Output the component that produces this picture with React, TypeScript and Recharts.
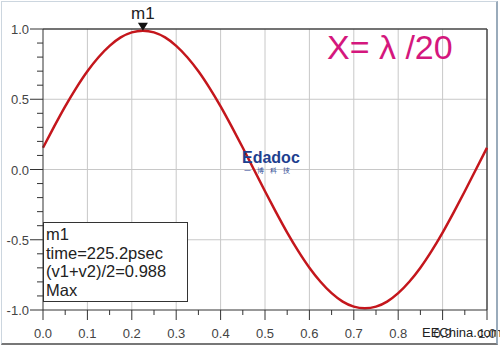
import React from "react";
import {
  LineChart,
  Line,
  XAxis,
  YAxis,
  ReferenceLine,
  ReferenceDot,
} from "recharts";

// time axis (normalised) and the averaged voltage
const timeValues = [
  0, 0.025, 0.05, 0.075, 0.1, 0.125, 0.15, 0.175, 0.2, 0.225, 0.25, 0.275, 0.3,
  0.325, 0.35, 0.375, 0.4, 0.425, 0.45, 0.475, 0.5, 0.525, 0.55, 0.575, 0.6,
  0.625, 0.65, 0.675, 0.7, 0.725, 0.75, 0.775, 0.8, 0.825, 0.85, 0.875, 0.9,
  0.925, 0.95, 0.975, 1.0,
];
const avgVoltage = [
  0.155, 0.305, 0.449, 0.581, 0.699, 0.799, 0.88, 0.94, 0.976, 0.988, 0.976,
  0.94, 0.88, 0.799, 0.699, 0.581, 0.449, 0.305, 0.155, 0.0, -0.155, -0.305,
  -0.449, -0.581, -0.699, -0.799, -0.88, -0.94, -0.976, -0.988, -0.976, -0.94,
  -0.88, -0.799, -0.699, -0.581, -0.449, -0.305, -0.155, 0.0, 0.155,
];

const xTicks = [
  0, 0.05, 0.1, 0.15, 0.2, 0.25, 0.3, 0.35, 0.4, 0.45, 0.5, 0.55, 0.6, 0.65,
  0.7, 0.75, 0.8, 0.85, 0.9, 0.95, 1.0,
];
const yTicks = [
  -1, -0.9, -0.8, -0.7, -0.6, -0.5, -0.4, -0.3, -0.2, -0.1, 0, 0.1, 0.2, 0.3,
  0.4, 0.5, 0.6, 0.7, 0.8, 0.9, 1,
];
const xGrid = [0.1, 0.2, 0.3, 0.4, 0.5, 0.6, 0.7, 0.8, 0.9];
const yGrid = [-0.5, 0, 0.5];

const marker = { name: "m1", x: 0.225, y: 0.988 };
const markerLines = ["m1", "time=225.2psec", "(v1+v2)/2=0.988", "Max"];

const data = timeValues.map((t, i) => ({ t, v: avgVoltage[i] }));

const FONT = "'Liberation Sans', Arial, sans-serif";

const XTick = (props: any) => {
  const { x, y, payload } = props;
  const major = Math.round(payload.value * 100) % 10 === 0;
  return (
    <g>
      <line x1={x} x2={x} y1={y} y2={y + (major ? 10 : 5)} stroke="#333" strokeWidth={1} />
      {major && (
        <text x={x} y={y + 28} textAnchor="middle" fontSize={13} fill="#444" fontFamily={FONT}>
          {payload.value.toFixed(1)}
        </text>
      )}
    </g>
  );
};

const YTick = (props: any) => {
  const { x, y, payload } = props;
  const major = Math.round(payload.value * 10) % 5 === 0;
  return (
    <g>
      <line x1={x} x2={x - (major ? 13 : 6)} y1={y} y2={y} stroke="#333" strokeWidth={1} />
      {major && (
        <text x={x - 14} y={y + 5} textAnchor="end" fontSize={13} fill="#444" fontFamily={FONT}>
          {payload.value.toFixed(1)}
        </text>
      )}
    </g>
  );
};

const MarkerShape = (props: any) => {
  const { cx, cy } = props;
  return (
    <g>
      <polygon points={`${cx - 5},${cy - 8} ${cx + 5},${cy - 8} ${cx},${cy}`} fill="#111" />
      <text x={cx} y={cy - 12} textAnchor="middle" fontSize={17} fill="#222" fontFamily={FONT}>
        {marker.name}
      </text>
    </g>
  );
};

export default function App() {
  return (
    <div
      style={{
        position: "absolute",
        left: 0,
        top: 0,
        width: 500,
        height: 347,
        background: "#fff",
        fontFamily: FONT,
      }}
    >
      <LineChart
        width={500}
        height={347}
        data={data}
        margin={{ top: 29, right: 13, bottom: 0, left: 0 }}
      >
        <XAxis
          type="number"
          dataKey="t"
          domain={[0, 1]}
          ticks={xTicks}
          interval={0}
          height={37}
          tickSize={0}
          tickMargin={0}
          axisLine={{ stroke: "#333" }}
          tick={XTick}
        />
        <YAxis
          type="number"
          domain={[-1, 1]}
          ticks={yTicks}
          interval={0}
          width={43}
          tickSize={0}
          tickMargin={0}
          axisLine={{ stroke: "#333" }}
          tick={YTick}
        />
        {xGrid.map((g) => (
          <ReferenceLine key={"gx" + g} x={g} stroke="#c8c8c8" strokeWidth={1} />
        ))}
        {yGrid.map((g) => (
          <ReferenceLine key={"gy" + g} y={g} stroke="#c8c8c8" strokeWidth={1} />
        ))}
        <ReferenceLine y={1} stroke="#444" strokeWidth={1.5} />
        <ReferenceLine x={1} stroke="#444" strokeWidth={1.5} />
        <Line
          type="monotone"
          dataKey="v"
          stroke="#c4161c"
          strokeWidth={2.5}
          dot={false}
          isAnimationActive={false}
        />
        <ReferenceDot x={marker.x} y={marker.y} r={5} shape={MarkerShape} />
      </LineChart>

      {/* marker readout box */}
      <div
        style={{
          position: "absolute",
          left: 43,
          top: 222,
          width: 145,
          height: 80,
          border: "1px solid #333",
          background: "#fff",
          fontSize: 16.5,
          lineHeight: "18.5px",
          color: "#222",
          paddingLeft: 2,
          paddingTop: 2,
          boxSizing: "border-box",
          whiteSpace: "nowrap",
        }}
      >
        {markerLines.map((l) => (
          <div key={l}>{l}</div>
        ))}
      </div>

      <div
        style={{
          position: "absolute",
          left: 327,
          top: 28,
          fontSize: 34,
          color: "#d4177d",
          whiteSpace: "nowrap",
        }}
      >
        X= λ /20
      </div>

      {/* watermarks */}
      <div style={{ position: "absolute", left: 242, top: 149, color: "#1e3f8f", fontWeight: "bold", fontSize: 16 }}>
        Edadoc
      </div>
      <div style={{ position: "absolute", left: 244, top: 166, color: "#1e3f8f", fontSize: 7, letterSpacing: 6 }}>
        一博科技
      </div>
      <div style={{ position: "absolute", left: 422, top: 325, color: "#222", fontSize: 13 }}>
        EEChina.com
      </div>

      {/* picture frame */}
      <div
        style={{
          position: "absolute",
          left: 1,
          top: 1,
          width: 497,
          height: 344,
          borderLeft: "1px solid #ccd6df",
          borderTop: "1px solid #ccd6df",
          borderRight: "2px solid #9aabbb",
          borderBottom: "2px solid #777",
          boxSizing: "border-box",
          pointerEvents: "none",
        }}
      />
    </div>
  );
}
